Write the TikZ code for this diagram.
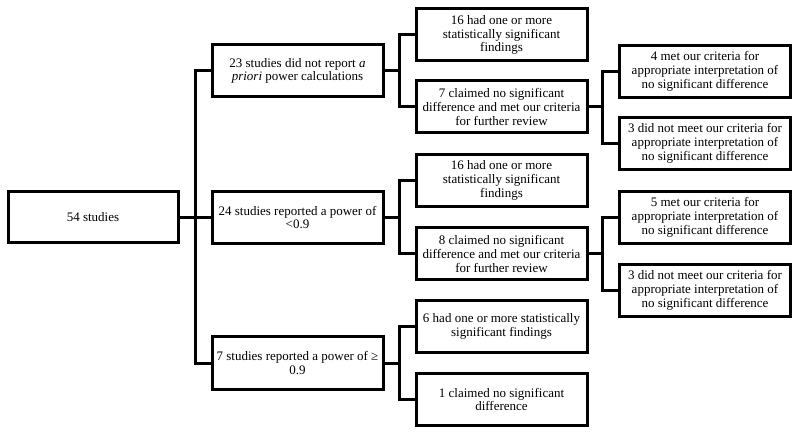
\documentclass[tikz,border=0pt]{standalone}
\usepackage{fontspec}
\setmainfont{Liberation Serif}
\begin{document}
\begin{tikzpicture}[x=1pt,y=-1pt,
  box/.style={draw=black,line width=3pt,align=center,inner sep=0pt,
    font=\fontsize{13}{13.7}\selectfont,anchor=center},
  lvl0/.style={box,minimum width=170pt,minimum height=51pt},
  lvl1/.style={box,minimum width=171pt,minimum height=52pt},
  conn/.style={draw=black,line width=3pt}]
\useasboundingbox (0,0) rectangle (800,435);
% nodes
\node[lvl0] (root) at (93,217.5) {54 studies};
\node[lvl1] (A) at (297.5,71) {23 studies did not report \emph{a}\\\emph{priori} power calculations};
\node[lvl1] (B) at (297.5,217.5) {24 studies reported a power of\\<0.9};
\node[lvl1] (C) at (297.5,363) {7 studies reported a power of ≥\\0.9};
\node[lvl1] (A1) at (501.5,35) {16 had one or more\\statistically significant\\findings};
\node[lvl1] (A2) at (501.5,107) {7 claimed no significant\\difference and met our criteria\\for further review};
\node[lvl1] (B1) at (501.5,180.5) {16 had one or more\\statistically significant\\findings};
\node[lvl1] (B2) at (501.5,254) {8 claimed no significant\\difference and met our criteria\\for further review};
\node[lvl1] (C1) at (501.5,326.5) {6 had one or more statistically\\significant findings};
\node[lvl1] (C2) at (501.5,399.5) {1 claimed no significant\\difference};
\node[lvl1] (A2a) at (705,71.5) {4 met our criteria for\\appropriate interpretation of\\no significant difference};
\node[lvl1] (A2b) at (705,143.5) {3 did not meet our criteria for\\appropriate interpretation of\\no significant difference};
\node[lvl1] (B2a) at (705,217.5) {5 met our criteria for\\appropriate interpretation of\\no significant difference};
\node[lvl1] (B2b) at (705,290.5) {3 did not meet our criteria for\\appropriate interpretation of\\no significant difference};
% junctions
\coordinate (j0) at (195,217.5);
\coordinate (jA) at (399,71);
\coordinate (jB) at (399,217.5);
\coordinate (jC) at (399,363);
\coordinate (jA2) at (602,107);
\coordinate (jB2) at (602,254);
% connectors
\draw[conn] (root.east) -- (B.west);
\draw[conn] (A.west) -| (j0) |- (C.west);
\draw[conn] (A.east) -- (jA);
\draw[conn] (A1.west) -| (jA) |- (A2.west);
\draw[conn] (B.east) -- (jB);
\draw[conn] (B1.west) -| (jB) |- (B2.west);
\draw[conn] (C.east) -- (jC);
\draw[conn] (C1.west) -| (jC) |- (C2.west);
\draw[conn] (A2.east) -- (jA2);
\draw[conn] (A2a.west) -| (jA2) |- (A2b.west);
\draw[conn] (B2.east) -- (jB2);
\draw[conn] (B2a.west) -| (jB2) |- (B2b.west);
\end{tikzpicture}
\end{document}
